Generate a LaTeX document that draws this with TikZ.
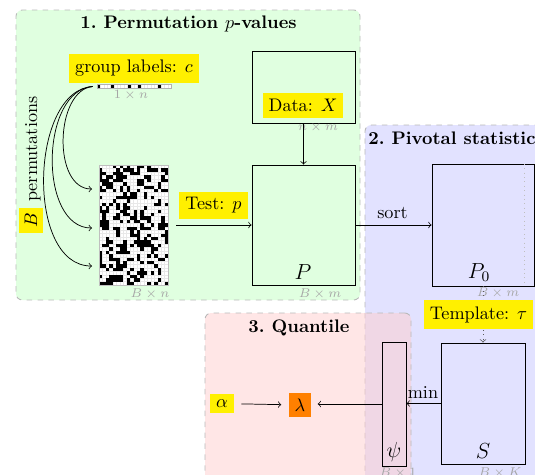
\documentclass[tikz,border=0pt]{standalone}
\usetikzlibrary{fit}
\definecolor{yel}{RGB}{255,240,0}
\definecolor{org}{RGB}{255,128,0}
\definecolor{grn}{RGB}{224,255,224}
\definecolor{blu}{RGB}{226,226,255}
\definecolor{rd}{RGB}{255,205,205}
\tikzset{
 panel/.style={draw=gray!55, dashed, rounded corners=3.5pt, line width=0.5pt, inner sep=0pt},
 ylab/.style={fill=yel, inner sep=3.33pt},
 mat/.style={draw, line width=0.5pt, inner sep=0pt},
 dimlab/.style={font=\scriptsize, text=gray!70, inner sep=0pt},
 ttl/.style={font=\bfseries, inner sep=0pt, anchor=base},
 big/.style={font=\large, inner sep=0pt, anchor=base},
 celline/.style={gray!18, line width=0.12pt},
}
\begin{document}
\begin{tikzpicture}[x=0.55pt,y=-0.55pt]
\useasboundingbox (0,0) rectangle (535,474);
\clip (0,0) rectangle (535,474);
% panels
\node[panel, fill=grn, fit={(16,10)(360,300)}] (G) {};
\node[panel, fill=blu, fit={(365,125)(590,530)}] (Bl) {};
\node[panel, fill=rd, fill opacity=0.5, fit={(205,313)(411,530)}] (R) {};
% titles
\node[ttl] (T1) at (188.5,28.5) {1.\ Permutation $p$-values};
\node[ttl, anchor=base west] (T2) at (368,144) {2.\ Pivotal statistics};
\node[ttl] (T3) at (299,332) {3.\ Quantile};
% group label vector
\node[ylab] (gl) at (134,68.5) {group labels: $c$};
\node[inner sep=0pt, fit={(97,84.5)(171,88.5)}] (c) {};
\fill[white] (97,84.5) rectangle (171,88.5);
\foreach \k in {0,4,9,12,18}{
  \fill[black] ({97+\k*3.3636},84.5) rectangle ++(3.3636,4);
}
\foreach \k in {1,...,21}{
  \draw[celline] ({97+\k*3.3636},84.5) -- ++(0,4);
}
\draw[gray!60, line width=0.3pt] (97,84.5) rectangle (171,88.5);
\node[dimlab] (d1) at (131,95) {$1\times n$};
% permutation matrix
\node[inner sep=0pt, fit={(99,165)(168,285)}] (M) {};
\fill[white] (99,165) rectangle (168,285);
\foreach \k in {1,...,19}{
  \draw[celline] ({99+\k*3.45},165) -- ++(0,120);
}
\foreach \k in {1,...,34}{
  \draw[celline] (99,{165+\k*3.4286}) -- ++(69,0);
}
\pgfmathsetseed{11}
\foreach \r in {0,...,34}{
  \foreach \cc in {0,...,19}{
    \pgfmathtruncatemacro\isb{rnd<0.35}
    \ifnum\isb=1
      \fill[black] ({99+\cc*3.45},{165+\r*3.4286}) rectangle ++(3.45,3.4286);
    \fi
  }
}
\draw[gray!50, line width=0.3pt] (99,165) rectangle (168,285);
\node[dimlab] (d2) at (150,294) {$B\times n$};
% B permutations
\node[rotate=90, inner sep=0pt] (Bp) at (31,165) {\colorbox{yel}{$B$} permutations};
\coordinate (t1) at (92,189);
\coordinate (t2) at (92,228);
\coordinate (t3) at (92,266);
\draw[->] ([xshift=-2.2pt]c.west) .. controls (55,90) and (52,189) .. (t1);
\draw[->] ([xshift=-2.2pt]c.west) .. controls (40,90) and (38,228) .. (t2);
\draw[->] ([xshift=-2.2pt]c.west) .. controls (30,90) and (25,266) .. (t3);
% data and P
\node[mat, fit={(252,51)(355,123)}] (X) {};
\node[ylab] (Xl) at (303,105.5) {Data: $X$};
\node[dimlab] (d3) at (318,127.5) {$n\times m$};
\node[mat, fit={(252,165)(355,285)}] (P) {};
\node[big] (Pl) at (303,279) {$P$};
\node[dimlab] (d4) at (320,294) {$B\times m$};
\draw[->] (X) -- (P);
\draw[->] ([xshift=4.4pt]M.east) -- (P.west);
\node[ylab] (tl) at (213.5,205.5) {Test: $p$};
% pivotal
\node[mat, fit={(432,164)(534,286)}] (P0) {};
\draw[gray!50, dotted] (524,164) -- (524,286);
\node[big] (P0l) at (479,278) {$P_0$};
\node[dimlab] (d5) at (498,293) {$B\times m$};
\draw[->] (P) -- (P0);
\node[inner sep=0pt, anchor=base] (sl) at (392.5,218) {sort};
\node[mat, fit={(441,343)(525,464)}] (S) {};
\node[big] (Sl) at (483,458) {$S$};
\node[dimlab] (d6) at (500,473) {$B\times K$};
\draw[->, dotted, gray!70!black] (P0.south) -- (S.north);
\node[ylab] (tp) at (478.5,314.5) {Template: $\tau$};
\node[mat, fit={(382,342)(406,466)}] (psi) {};
\node[big] (psil) at (394,457) {$\psi$};
\node[dimlab] (d7) at (398,473) {$B\times 1$};
\draw[->] (S.west) -- (S.west -| psi.east);
\node[inner sep=0pt, anchor=base] (ml) at (423,398) {min};
% quantile
\node[fill=org, inner sep=3.33pt] (lam) at (300,405) {$\lambda$};
\node[ylab] (al) at (222,403.5) {$\alpha$};
\draw[->, shorten <=3.85pt, shorten >=3.85pt] (al) -- (lam);
\draw[->, shorten >=3.3pt] (psi.west) -- (psi.west -| lam.east);
\end{tikzpicture}
\end{document}
